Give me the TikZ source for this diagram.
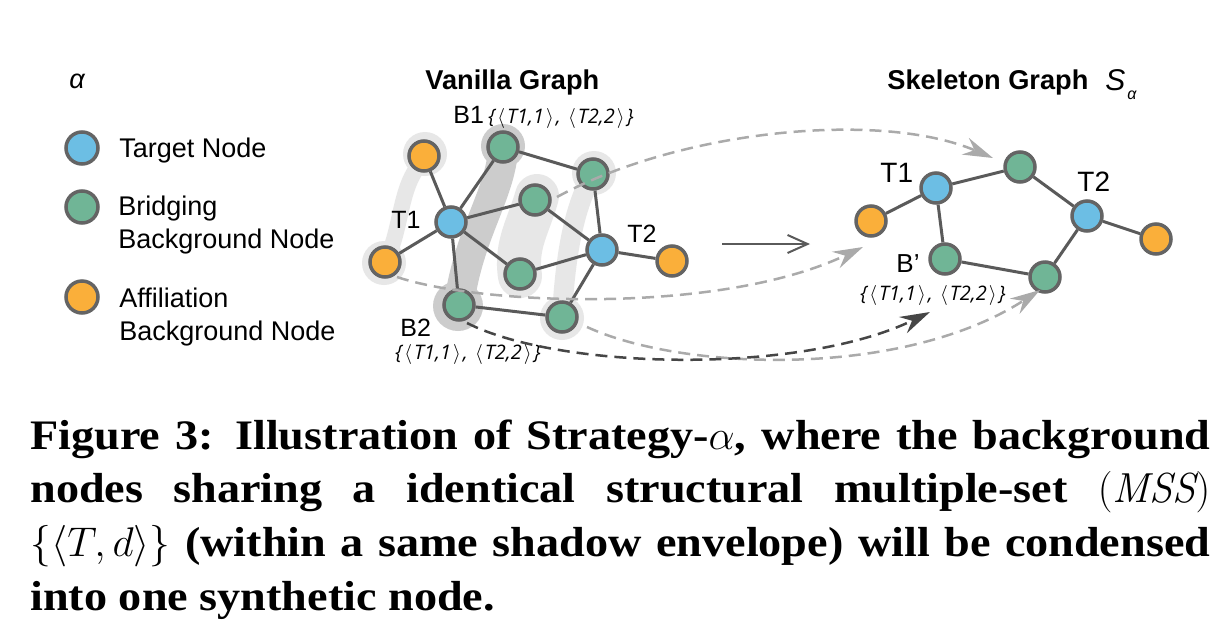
\documentclass[tikz,border=0pt]{standalone}
\usepackage{fontspec}
\setsansfont{Liberation Sans}
\newfontfamily\capfont[FakeStretch=1.1]{Liberation Serif}
\newfontfamily\setfont{Open Sans}
\usetikzlibrary{arrows.meta}
\definecolor{tblue}{RGB}{108,190,228}
\definecolor{bgreen}{RGB}{112,181,150}
\definecolor{aorange}{RGB}{250,175,58}
\definecolor{nborder}{RGB}{100,100,100}
\definecolor{edgec}{RGB}{90,90,90}
\definecolor{envlight}{RGB}{231,231,231}
\definecolor{envdark}{RGB}{204,204,204}
\definecolor{dashlight}{RGB}{170,170,170}
\definecolor{dashdark}{RGB}{70,70,70}
\newcommand{\mylangle}{\kern1pt$\langle$\kern1pt}
\newcommand{\myrangle}{\kern1pt$\rangle$\kern1pt}
\newcommand{\msslabel}{\{\mylangle T1,1\myrangle, \mylangle T2,2\myrangle\}}
\begin{document}
\begin{tikzpicture}[x=0.5pt,y=-0.5pt,
  nodebase/.style={circle, draw=nborder, line width=1.75pt, minimum size=15pt, inner sep=0pt},
  tnode/.style={nodebase, fill=tblue},
  bnode/.style={nodebase, fill=bgreen},
  anode/.style={nodebase, fill=aorange},
  legnode/.style={minimum size=16pt},
  edge/.style={draw=edgec, line width=1.5pt},
  envl/.style={draw=envlight, line cap=round},
  envd/.style={draw=envdark, line cap=round},
  dashl/.style={draw=dashlight, line width=1.25pt, dash pattern=on 6pt off 3.5pt, -{Stealth[length=15pt,width=9pt,inset=5pt,fill=dashlight]}},
  dashd/.style={draw=dashdark, line width=1.25pt, dash pattern=on 6pt off 3.5pt, -{Stealth[length=15pt,width=9pt,inset=5pt,fill=dashdark]}},
  txt/.style={anchor=base west, inner sep=0pt, font=\sffamily\fontsize{13.5}{16.5}\selectfont},
  vlab/.style={anchor=base west, inner sep=0pt, font=\sffamily\fontsize{12.5}{14}\selectfont},
  slab/.style={anchor=base west, inner sep=0pt, font=\sffamily\fontsize{14}{16}\selectfont},
  setlab/.style={anchor=base west, inner sep=0pt, font=\setfont\itshape\fontsize{10}{12}\selectfont},
  ttl/.style={anchor=base west, inner sep=0pt, font=\sffamily\bfseries\fontsize{13.6}{15}\selectfont}
]
\fill[white] (0,0) rectangle (1231,633);
\useasboundingbox (0,0) rectangle (1231,633);

% ---- envelopes ----
\fill[envlight] (425,154) circle[radius=11pt];
\fill[envlight] (384,263) circle[radius=11pt];
\draw[envl, line width=8pt] (422,162) .. controls (400,185) and (402,225) .. (388,256);
\fill[envdark] (503,146) circle[radius=11pt];
\fill[envdark] (458,306) circle[radius=12.5pt];
\draw[envd, line width=15pt] (503,150) .. controls (500,195) and (468,235) .. (459,305);
\draw[envl, line width=22pt] (537,196) .. controls (529,225) and (515,245) .. (520,276);
\fill[envlight] (594,173) circle[radius=11pt];
\fill[envlight] (562,318) circle[radius=11pt];
\draw[envl, line width=10pt] (593,174) .. controls (578,200) and (566,240) .. (562,317);

% ---- vanilla graph nodes ----
\node[anode] (oTL) at (424,156) {};
\node[anode] (oBL) at (385,262) {};
\node[tnode] (T1) at (451,222) {};
\node[bnode] (B1) at (503,147) {};
\node[bnode] (gMT) at (535,200) {};
\node[bnode] (gMB) at (520,274) {};
\node[bnode] (B2) at (459,305) {};
\node[bnode] (gUR) at (593,174) {};
\node[bnode] (gBR) at (562,317) {};
\node[tnode] (T2) at (602,250) {};
\node[anode] (oR) at (672,261) {};
\foreach \a/\b in {T1/oTL, T1/oBL, T1/B1, T1/gMT, T1/gMB, T1/B2, B1/gUR, gUR/T2, gMT/T2, gMB/T2, T2/oR, T2/gBR, B2/gBR}
  \draw[edge] (\a) -- (\b);

% ---- skeleton graph nodes ----
\node[anode] (sO1) at (871,221) {};
\node[tnode] (sT1) at (936,188) {};
\node[bnode] (sG1) at (1020,167) {};
\node[tnode] (sT2) at (1087,216) {};
\node[anode] (sO2) at (1156,239) {};
\node[bnode] (sB) at (945,259) {};
\node[bnode] (sG2) at (1045,277) {};
\foreach \a/\b in {sO1/sT1, sT1/sG1, sG1/sT2, sT2/sO2, sT1/sB, sB/sG2, sG2/sT2}
  \draw[edge] (\a) -- (\b);

% ---- dashed mapping arrows ----
\coordinate (dA0) at (557,197);
\coordinate (dA1) at (993,158);
\coordinate (dB0) at (397,277);
\coordinate (dB1) at (863,247);
\coordinate (dC0) at (467,323);
\coordinate (dC1) at (930,312);
\coordinate (dD0) at (587,327);
\coordinate (dD1) at (1040,290);
\draw[dashl] (dA0) .. controls (680,130) and (880,110) .. (dA1);
\draw[dashl] (dB0) .. controls (480,305) and (720,315) .. (dB1);
\draw[dashl] (dD0) .. controls (680,370) and (900,380) .. (dD1);
\draw[dashd] (dC0) .. controls (560,370) and (800,375) .. (dC1);

% ---- solid arrow ----
\coordinate (ar0) at (722,244);
\coordinate (ar1) at (810,244);
\draw[draw=edgec, line width=1pt, -{Straight Barb[length=10pt,width=9pt,line width=1pt]}] (ar0) -- (ar1);

% ---- labels ----
\node[ttl] (tv) at (425,89) {Vanilla Graph};
\node[ttl] (ts) at (887,89) {Skeleton Graph};
\node[anchor=base west, inner sep=0pt, font=\sffamily\itshape\fontsize{15}{16}\selectfont] (tS) at (1105,90) {S};
\node[anchor=base west, inner sep=0pt, font=\sffamily\itshape\fontsize{8}{9}\selectfont] (tSa) at (1127,99) {α};

\node[vlab] (lT1) at (391,228) {T1};
\node[vlab] (lT2) at (627,242) {T2};
\node[vlab] (lB1) at (453,123) {B1};
\node[setlab] (sB1) at (488,123) {\msslabel};
\node[vlab] (lB2) at (400,336) {B2};
\node[setlab] (sB2) at (395,359) {\msslabel};

\node[slab] (lsT1) at (880,182) {T1};
\node[slab] (lsT2) at (1077,191) {T2};
\node[anchor=base west, inner sep=0pt, font=\sffamily\fontsize{13}{15}\selectfont] (lsB) at (896,272) {B’};
\node[setlab] (ssB) at (860,300) {\msslabel};

% ---- legend ----
\node[txt, font=\sffamily\itshape\fontsize{13.5}{16.5}\selectfont] (lalpha) at (69,88) {α};
\node[tnode, legnode] (legT) at (82,148) {};
\node[bnode, legnode] (legB) at (82,207) {};
\node[anode, legnode] (legA) at (82,297) {};
\node[txt] (ltT) at (119,157) {Target Node};
\node[txt] (ltB1) at (118,215) {Bridging};
\node[txt] (ltB2) at (118,248) {Background Node};
\node[txt] (ltA1) at (119,307) {Affiliation};
\node[txt] (ltA2) at (119,340) {Background Node};

% ---- caption ----
\node[anchor=base west, inner sep=0pt, text width=590pt, align=justify,
      font=\capfont\bfseries\fontsize{21}{26.9}\selectfont] (cap) at (30,449)
 {Figure 3: Illustration of Strategy-$\alpha$, where the background\linebreak
  nodes sharing a identical structural multiple-set $(\mathit{MSS})$\linebreak
  $\{\langle T, d\rangle\}$ (within a same shadow envelope) will be condensed\linebreak
  into one synthetic node.};
\end{tikzpicture}
\end{document}
